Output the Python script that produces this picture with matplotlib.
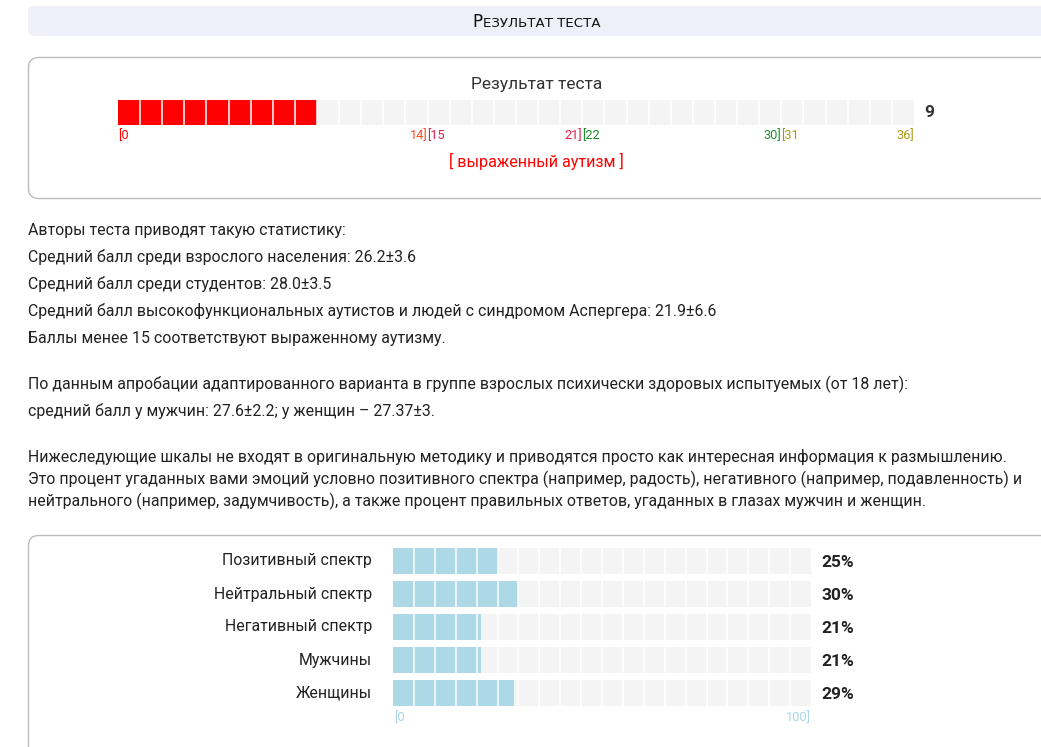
import matplotlib
matplotlib.use('Agg')
import matplotlib.pyplot as plt
from matplotlib.patches import FancyBboxPatch

plt.rcParams['font.family'] = ['Roboto', 'DejaVu Sans']

# ---- data ----
score = 9
score_max = 36
score_ranges = [(0, 14), (15, 21), (22, 30), (31, 36)]
range_colors = [('#ff0000', '#ff4a1a'), ('#e0204a', '#dc1f4c'),
                ('#1a8f2a', '#1a8f2a'), ('#a89a18', '#a89a18')]
verdict = '[ выраженный аутизм ]'

stats_lines = [
    'Авторы теста приводят такую статистику:',
    'Средний балл среди взрослого населения: 26.2±3.6',
    'Средний балл среди студентов: 28.0±3.5',
    'Средний балл высокофункциональных аутистов и людей с синдромом Аспергера: 21.9±6.6',
    'Баллы менее 15 соответствуют выраженному аутизму.',
]
adapt_lines = [
    'По данным апробации адаптированного варианта в группе взрослых психически здоровых испытуемых (от 18 лет):',
    'средний балл у мужчин: 27.6±2.2; у женщин – 27.37±3.',
]
note_lines = [
    'Нижеследующие шкалы не входят в оригинальную методику и приводятся просто как интересная информация к размышлению.',
    'Это процент угаданных вами эмоций условно позитивного спектра (например, радость), негативного (например, подавленность) и',
    'нейтрального (например, задумчивость), а также процент правильных ответов, угаданных в глазах мужчин и женщин.',
]

scale_names = ['Позитивный спектр', 'Нейтральный спектр', 'Негативный спектр', 'Мужчины', 'Женщины']
scale_values = [25, 30, 21, 21, 29]

W, H = 1041, 747
BODY = 11.4
fig = plt.figure(figsize=(W / 100, H / 100), dpi=100)
bg = fig.add_axes([0, 0, 1, 1])
bg.set_xlim(0, W)
bg.set_ylim(H, 0)
bg.axis('off')

# header strip
bg.add_patch(FancyBboxPatch((28, 6), 1030, 30, boxstyle='round,pad=0,rounding_size=6',
                            fc='#eeeff8', ec='none'))
narrow = ['Liberation Sans Narrow', 'DejaVu Sans Condensed', 'DejaVu Sans']
bg.text(483, 27, 'Р', fontsize=12, ha='right', va='baseline', family=narrow, color='#111')
bg.text(483, 27, 'ЕЗУЛЬТАТ ТЕСТА', fontsize=9.6, ha='left', va='baseline', family=narrow,
        color='#111')

# boxes
bg.add_patch(FancyBboxPatch((28.5, 57.5), 1030, 141, boxstyle='round,pad=0,rounding_size=10',
                            fc='white', ec='#bdbdbd', lw=1))
bg.add_patch(FancyBboxPatch((28.5, 535.5), 1030, 230, boxstyle='round,pad=0,rounding_size=10',
                            fc='white', ec='#bdbdbd', lw=1))

bg.text(537, 84, 'Результат теста', fontsize=12.5, ha='center', va='center', color='#333')
bg.text(536, 161, verdict, fontsize=11.6, ha='center', va='center', color='#ff0000')

# body text
y = 230
for line in stats_lines:
    bg.text(28, y, line, fontsize=BODY, ha='left', va='center', color='#222')
    y += 27
y = 384
for line in adapt_lines:
    bg.text(28, y, line, fontsize=BODY, ha='left', va='center', color='#222')
    y += 27
y = 457
for line in note_lines:
    bg.text(28, y, line, fontsize=BODY, ha='left', va='center', color='#222')
    y += 22

# ---- score bar ----
sx0, sx1, sy0, sy1 = 118, 914, 100, 125
ax = fig.add_axes([sx0 / W, 1 - sy1 / H, (sx1 - sx0) / W, (sy1 - sy0) / H])
ax.set_xlim(0, score_max)
ax.set_ylim(0, 1)
ax.axis('off')
ax.barh(0.5, score_max, height=1, left=0, color='#f4f4f4')
ax.barh(0.5, score, height=1, left=0, color='#ff0000')
ax.vlines(range(1, score_max), 0, 1, color='white', lw=1.1)

# range labels under score bar (left bracket sits on the boundary of the previous cell)
for (lo, hi), (c_lo, c_hi) in zip(score_ranges, range_colors):
    ax.text(max(lo - 1, 0), -0.42, f'[{lo}', color=c_lo, fontsize=9.2, ha='left', va='center')
    ax.text(hi, -0.42, f'{hi}]', color=c_hi, fontsize=9.2, ha='right', va='center')
ax.text(score_max + 0.45, 0.5, str(score), fontsize=12.5, fontweight='bold',
        ha='left', va='center', color='#333')

# ---- scales ----
bx0, bx1 = 393, 811
row_top, pitch = 544.5, 33
n = len(scale_values)
ax2 = fig.add_axes([bx0 / W, 1 - (row_top + pitch * n) / H, (bx1 - bx0) / W, pitch * n / H])
ax2.set_xlim(0, 100)
ax2.set_ylim(n - 0.5, -0.5)
ax2.axis('off')
rows = list(range(n))
ax2.barh(rows, [100] * n, height=0.76, color='#f4f4f4')
ax2.barh(rows, scale_values, height=0.76, color='#add8e6')
for r in rows:
    ax2.vlines(range(5, 100, 5), r - 0.38, r + 0.38, color='white', lw=1.1)
for r, (name, v) in enumerate(zip(scale_names, scale_values)):
    ax2.text(-5, r, name, fontsize=BODY, ha='right', va='center', color='#222')
    ax2.text(102.4, r + 0.05, f'{v}%', fontsize=12.5, fontweight='bold',
             ha='left', va='center', color='#222')
ax2.text(0.3, n - 0.25, '[0', fontsize=9.2, ha='left', va='center', color='#a8d4e6')
ax2.text(100, n - 0.25, '100]', fontsize=9.2, ha='right', va='center', color='#a8d4e6')

fig.savefig('out.png', dpi=100)
